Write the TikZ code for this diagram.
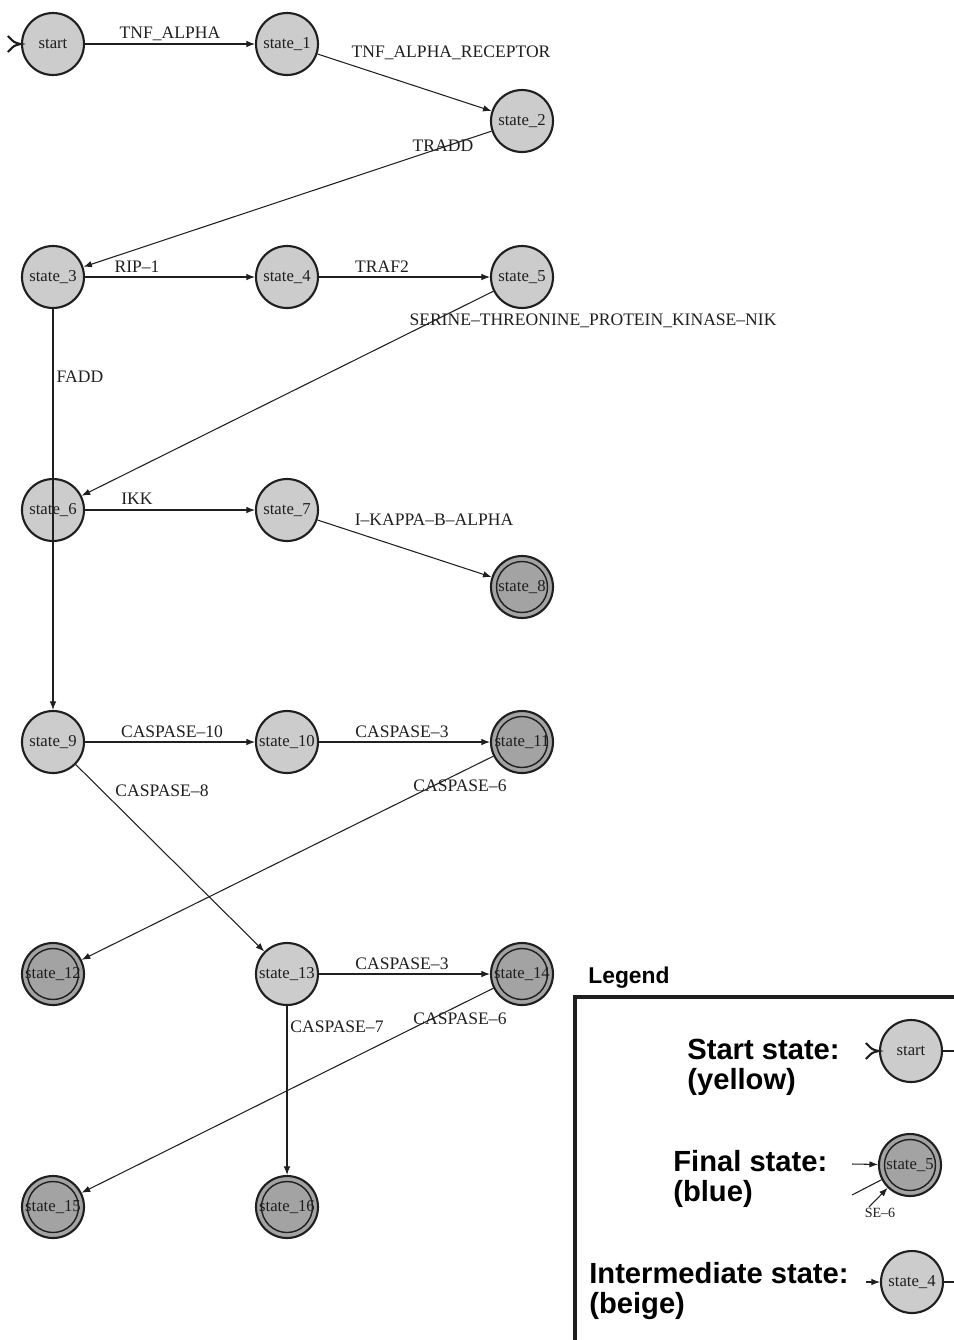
\documentclass[tikz,border=0pt]{standalone}
\usepackage{fontspec}
\setmainfont{Liberation Serif}
\newfontfamily\legendfont{Liberation Sans}
\usetikzlibrary{arrows.meta}

\definecolor{ink}{gray}{0.12}
\definecolor{plain}{gray}{0.80}
\definecolor{accept}{gray}{0.64}

\tikzset{
  st/.style={circle, draw=ink, line width=1.2pt, fill=plain, minimum size=1.24cm,
    inner sep=0pt, font=\fontsize{9.5}{11}\selectfont, text=ink},
  fin/.style={st, fill=accept,
    path picture={
      \node[font=\fontsize{9.5}{11}\selectfont, text=ink] at (path picture bounding box.center) {#1};
      \draw[ink, line width=0.8pt] (path picture bounding box.center) circle (0.51cm);}},
  tr/.style={draw=ink, line width=0.6pt, -{Latex[length=1.7mm,width=1.3mm]}},
  bare/.style={draw=ink, line width=0.6pt},
  lbl/.style={font=\fontsize{10}{12}\selectfont, text=ink, inner sep=0pt},
  entry/.style={draw=ink, line width=1.2pt},
  legtext/.style={font=\legendfont\bfseries\fontsize{16.6}{18}\selectfont,
    anchor=base west, inner sep=0pt, text=black},
}

\begin{document}
\begin{tikzpicture}[x=0.02cm, y=-0.02cm]
  \useasboundingbox[fill=white] (0,0) rectangle (954,1340);

  % states
  \node[st] (s0) at (53,44) {start};
  \node[st] (s1) at (287,44) {state\_1};
  \node[st] (s2) at (522,121) {state\_2};
  \node[st] (s3) at (53,277) {state\_3};
  \node[st] (s4) at (287,277) {state\_4};
  \node[st] (s5) at (522,277) {state\_5};
  \node[st] (s6) at (53,510) {state\_6};
  \node[st] (s7) at (287,510) {state\_7};
  \node[fin={state\_8}] (s8) at (522,587) {};
  \node[st] (s9) at (53,742) {state\_9};
  \node[st] (s10) at (287,742) {state\_10};
  \node[fin={state\_11}] (s11) at (522,742) {};
  \node[fin={state\_12}] (s12) at (53,974) {};
  \node[st] (s13) at (287,974) {state\_13};
  \node[fin={state\_14}] (s14) at (522,974) {};
  \node[fin={state\_15}] (s15) at (53,1207) {};
  \node[fin={state\_16}] (s16) at (287,1207) {};

  % entry marker of the start state
  \draw[entry] ([xshift=-0.26cm,yshift=0.16cm]s0.west)
    .. controls ([xshift=-0.14cm,yshift=0.03cm]s0.west) .. (s0.west)
    .. controls ([xshift=-0.14cm,yshift=-0.03cm]s0.west) .. ([xshift=-0.26cm,yshift=-0.16cm]s0.west);

  % transitions
  \draw[tr] (s0) -- (s1);
  \draw[tr] (s1) -- (s2);
  \draw[tr] (s2) -- (s3);
  \draw[tr] (s3) -- (s4);
  \draw[tr] (s4) -- (s5);
  \draw[tr] (s5) -- (s6);
  \draw[tr] (s3) -- (s9);
  \draw[tr] (s6) -- (s7);
  \draw[tr] (s7) -- (s8);
  \draw[tr] (s9) -- (s10);
  \draw[tr] (s10) -- (s11);
  \draw[tr] (s9) -- (s13);
  \draw[tr] (s11) -- (s12);
  \draw[tr] (s13) -- (s14);
  \draw[tr] (s13) -- (s16);
  \draw[tr] (s14) -- (s15);

  % transition labels
  \node[lbl] (l01) at (170,34) {TNF\_ALPHA};
  \node[lbl] (l12) at (451,53) {TNF\_ALPHA\_RECEPTOR};
  \node[lbl] (l23) at (443,146) {TRADD};
  \node[lbl] (l34) at (137,267) {RIP--1};
  \node[lbl] (l45) at (382,267) {TRAF2};
  \node[lbl] (l56) at (593,321) {SERINE--THREONINE\_PROTEIN\_KINASE--NIK};
  \node[lbl] (l39) at (80,377) {FADD};
  \node[lbl] (l67) at (137,499) {IKK};
  \node[lbl] (l78) at (434,520) {I--KAPPA--B--ALPHA};
  \node[lbl] (l910) at (172,732) {CASPASE--10};
  \node[lbl] (l1011) at (402,732) {CASPASE--3};
  \node[lbl] (l913) at (162,791) {CASPASE--8};
  \node[lbl] (l1112) at (460,786) {CASPASE--6};
  \node[lbl] (l1314) at (402,964) {CASPASE--3};
  \node[lbl] (l1316) at (337,1027) {CASPASE--7};
  \node[lbl] (l1415) at (460,1019) {CASPASE--6};

  % legend
  \node[font=\legendfont\bfseries\fontsize{13}{15}\selectfont, anchor=west, inner sep=0pt]
    (legtitle) at (588,978) {Legend};
  \draw[ink, line width=2.2pt] (575,1340) |- (954,997);

  \node[legtext] (tstart) at (687,1059) {Start state:};
  \node[legtext] (tstartc) at (687,1089) {(yellow)};
  \node[legtext] (tfinal) at (673,1171) {Final state:};
  \node[legtext] (tfinalc) at (673,1201) {(blue)};
  \node[legtext] (tinter) at (589,1283) {Intermediate state:};
  \node[legtext] (tinterc) at (589,1313) {(beige)};

  \node[st] (ls) at (911,1051) {start};
  \node[fin={state\_5}] (lf) at (910,1165) {};
  \node[st] (li) at (912,1282) {state\_4};

  \draw[entry] ([xshift=-0.26cm,yshift=0.16cm]ls.west)
    .. controls ([xshift=-0.14cm,yshift=0.03cm]ls.west) .. (ls.west)
    .. controls ([xshift=-0.14cm,yshift=-0.03cm]ls.west) .. ([xshift=-0.26cm,yshift=-0.16cm]ls.west);

  \coordinate (lsout) at (954,1051);
  \coordinate (lfin) at (852,1164);
  \coordinate (lfin2) at (852,1195);
  \coordinate (lfin3) at (869,1207);
  \coordinate (liin) at (866,1282);
  \coordinate (liout) at (954,1282);

  \draw[bare] (ls) -- (lsout);
  \draw[tr] (lfin) -- (lf);
  \draw[bare] (lfin2) -- (lf);
  \draw[tr] (lfin3) -- (lf);
  \draw[tr] (liin) -- (li);
  \draw[bare] (li) -- (liout);
  \node[lbl, font=\fontsize{8}{9}\selectfont] (lfrag) at (880,1213) {SE--6};
\end{tikzpicture}
\end{document}
